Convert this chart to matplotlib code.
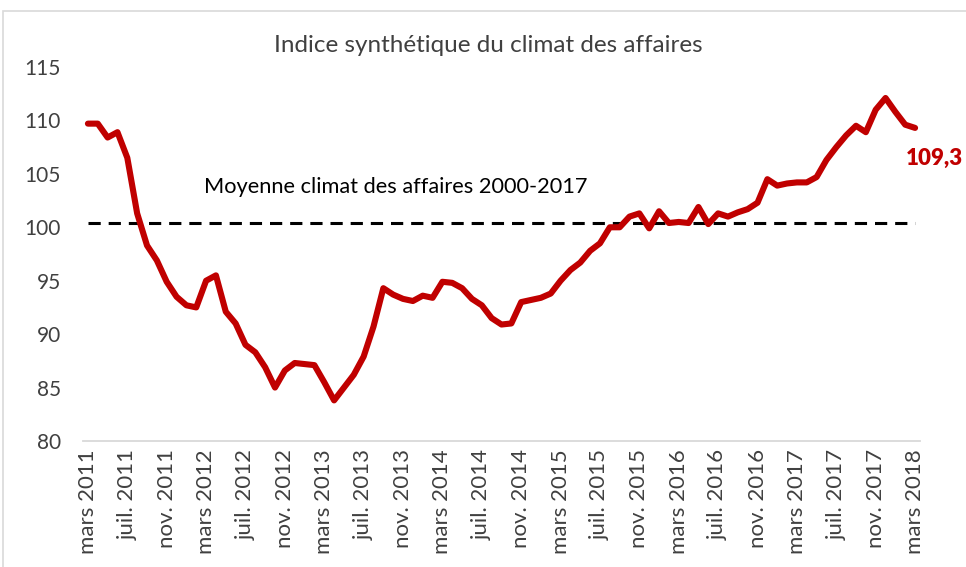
import matplotlib
matplotlib.use("Agg")
import matplotlib.pyplot as plt
from matplotlib.patches import Rectangle

plt.rcParams['font.family'] = ['Lato', 'DejaVu Sans']

# ---- data ----
values = [109.7, 109.7, 108.4, 108.9, 106.5, 101.3, 98.3, 96.9, 94.9, 93.5,
          92.7, 92.5, 95.0, 95.5, 92.1, 91.0, 89.0, 88.3, 86.9, 85.0,
          86.6, 87.3, 87.2, 87.1, 85.5, 83.8, 85.0, 86.2, 87.9, 90.7,
          94.3, 93.7, 93.3, 93.1, 93.6, 93.4, 94.9, 94.8, 94.3, 93.3,
          92.7, 91.5, 90.9, 91.0, 93.0, 93.2, 93.4, 93.8, 95.0, 96.0,
          96.7, 97.8, 98.5, 100.0, 100.0, 101.0, 101.3, 99.9, 101.5, 100.4,
          100.5, 100.4, 101.9, 100.3, 101.3, 101.0, 101.4, 101.7, 102.3, 104.5,
          103.9, 104.1, 104.2, 104.2, 104.7, 106.3, 107.5, 108.6, 109.5, 108.9,
          111.0, 112.1, 110.8, 109.6, 109.3]
average = 100.4
tick_labels = ["mars 2011", "juil. 2011", "nov. 2011", "mars 2012", "juil. 2012",
               "nov. 2012", "mars 2013", "juil. 2013", "nov. 2013", "mars 2014",
               "juil. 2014", "nov. 2014", "mars 2015", "juil. 2015", "nov. 2015",
               "mars 2016", "juil. 2016", "nov. 2016", "mars 2017", "juil. 2017",
               "nov. 2017", "mars 2018"]
tick_step = 4
title = "Indice synthétique du climat des affaires"
avg_label = "Moyenne climat des affaires 2000-2017"
last_label = "109,3"
yticks = [80, 85, 90, 95, 100, 105, 110, 115]

W, H = 966, 567
fig = plt.figure(figsize=(W / 100, H / 100), dpi=100)
ax = fig.add_axes([83 / W, 1 - 441 / H, (920 - 83) / W, (441 - 67) / H])

x = list(range(len(values)))
ax.plot(x, values, color="#C00000", lw=4.4, solid_joinstyle="round",
        solid_capstyle="round", zorder=3)
ax.plot([x[0], x[-1]], [average, average], color="black", lw=2.2,
        dashes=(4, 2.6), zorder=2)

ax.set_xlim(-0.5, len(values) - 0.5)
ax.set_ylim(80, 115)
ax.set_yticks(yticks)
ax.set_yticklabels([str(v) for v in yticks])
ax.set_xticks(x[::tick_step])
ax.set_xticklabels(tick_labels, rotation=90)

for s in ["top", "right", "left"]:
    ax.spines[s].set_visible(False)
ax.spines["bottom"].set_color("#D9D9D9")
ax.spines["bottom"].set_linewidth(1.3)
ax.tick_params(axis="both", length=0, colors="#404040")
ax.tick_params(axis="y", pad=16, labelsize=15)
ax.tick_params(axis="x", pad=6, labelsize=16)

fig.text(488 / W, 1 - 45 / H, title, ha="center", va="center",
         fontsize=17.5, color="#404040")
ax.text(11.8, average + 3.4, avg_label, ha="left", va="center",
        fontsize=15.7, color="black")
ax.annotate(last_label, xy=(x[-1], values[-1]), xytext=(-7, -22),
            textcoords="offset points", ha="left", va="center",
            fontsize=16, fontweight="heavy", color="#C00000",
            annotation_clip=False)

fig.patches.append(Rectangle((3 / W, -0.1), 1.2, 1.1 - 11 / H + 0.0,
                             transform=fig.transFigure, fill=False,
                             edgecolor="#D9D9D9", lw=1.2))

fig.savefig("out.png", dpi=100)
